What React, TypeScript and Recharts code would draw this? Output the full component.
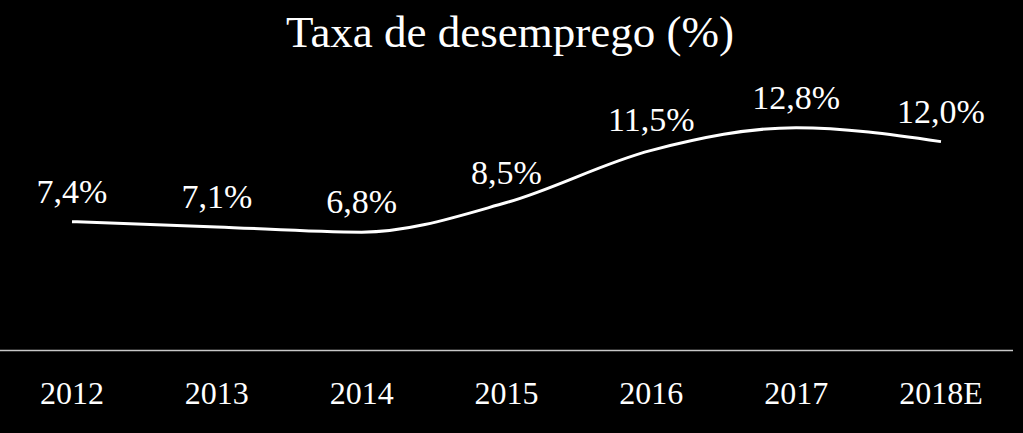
import React from 'react';
import { LineChart, Line, XAxis, YAxis, LabelList } from 'recharts';

const years = ['2012', '2013', '2014', '2015', '2016', '2017', '2018E'];
const rates = [7.4, 7.1, 6.8, 8.5, 11.5, 12.8, 12.0];

const FONT = '"Liberation Serif", "Times New Roman", serif';

const data = years.map((year, i) => ({ year, rate: rates[i] }));

const fmt = (v: any) => `${Number(v).toFixed(1).replace('.', ',')}%`;

const YearTick = ({ x, y, payload }: any) => (
  <text x={x} y={y + 53.5} textAnchor="middle" fill="#ffffff" fontSize={32} fontFamily={FONT}>
    {payload.value}
  </text>
);

export default function App(): React.ReactElement {
  return (
    <div style={{ position: 'fixed', left: 0, top: 0, width: 1023, height: 433, background: '#000' }}>
      <LineChart
        width={1023}
        height={433}
        data={data}
        margin={{ top: 72, right: 10, left: 0, bottom: 0 }}
      >
        <XAxis
          dataKey="year"
          height={82.5}
          padding={{ left: 72, right: 72 }}
          axisLine={{ stroke: '#c8c8c8', strokeWidth: 1.5 }}
          tickLine={false}
          tickSize={0}
          tickMargin={0}
          interval={0}
          tick={<YearTick />}
        />
        <YAxis hide domain={[0, 16]} />
        <Line
          type="monotone"
          dataKey="rate"
          stroke="#ffffff"
          strokeWidth={3}
          dot={false}
          isAnimationActive={false}
        >
          <LabelList
            dataKey="rate"
            position="top"
            offset={19}
            formatter={fmt}
            fill="#ffffff"
            fontSize={34}
            fontFamily={FONT}
          />
        </Line>
      </LineChart>
      <svg
        width={1023}
        height={433}
        style={{ position: 'absolute', left: 0, top: 0, pointerEvents: 'none' }}
      >
        <text x={510} y={47} textAnchor="middle" fill="#ffffff" fontSize={45} fontFamily={FONT}>
          Taxa de desemprego (%)
        </text>
      </svg>
    </div>
  );
}
